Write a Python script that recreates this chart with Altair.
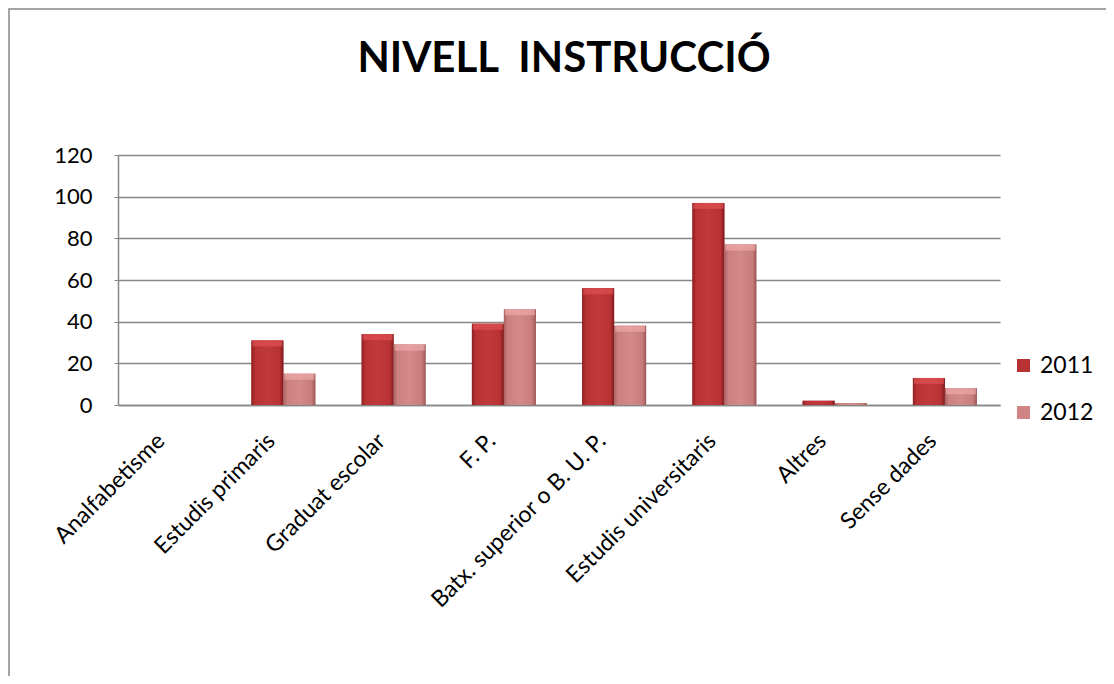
import altair as alt
import pandas as pd

categories = ["Analfabetisme", "Estudis primaris", "Graduat escolar", "F. P.",
              "Batx. superior o B. U. P.", "Estudis universitaris", "Altres", "Sense dades"]
v2011 = [0, 31, 34, 39, 56, 97, 2, 13]
v2012 = [0, 15, 29, 46, 38, 77, 1, 8]
years = ["2011", "2012"]
y_ticks = [0, 20, 40, 60, 80, 100, 120]
title_text = "NIVELL\u00a0 INSTRUCCIÓ"

rows = []
for c, a, b in zip(categories, v2011, v2012):
    rows.append({"cat": c, "year": "2011", "v": a})
    rows.append({"cat": c, "year": "2012", "v": b})
df = pd.DataFrame(rows)

FONT = "Lato"
GRID = "#868686"

x = alt.X("cat:N", sort=categories,
          scale=alt.Scale(paddingInner=0.42, paddingOuter=0.21),
          axis=alt.Axis(title=None, labelAngle=-45, labelAlign="right", labelBaseline="middle",
                        labelPadding=32, labelOffset=-12, ticks=False, domainColor=GRID,
                        domainWidth=1.5, labelFontSize=23, labelColor="black", labelFont=FONT,
                        grid=False, labelLimit=0))
y = alt.Y("v:Q", scale=alt.Scale(domain=[0, 120], nice=False),
          axis=alt.Axis(title=None, values=y_ticks, grid=True, gridColor=GRID, gridWidth=1.5,
                        domainColor=GRID, domainWidth=1.5, tickColor=GRID, tickSize=4,
                        labelFontSize=22, labelColor="black", labelFont=FONT, labelPadding=22))
xo = alt.XOffset("year:N", sort=years, scale=alt.Scale(domain=years, paddingInner=0, paddingOuter=0))
color = alt.Color("year:N", scale=alt.Scale(domain=years, range=["#B83234", "#D08484"]),
                  legend=alt.Legend(title=None, orient="none", legendX=894, legendY=199,
                                    symbolType="square", symbolSize=170, symbolStrokeWidth=0,
                                    labelFontSize=23, labelFont=FONT, labelColor="black",
                                    rowPadding=23, labelOffset=5))

border = alt.Chart(pd.DataFrame({"a": [0]})).mark_rect(
    filled=False, stroke=GRID, strokeWidth=1.5
).encode(x=alt.value(-109), x2=alt.value(1100), y=alt.value(-146), y2=alt.value(700))

title = alt.Chart(pd.DataFrame({"t": [title_text]})).mark_text(
    font=FONT, fontSize=42, fontWeight="bold", color="black", align="center", baseline="alphabetic"
).encode(text="t:N", x=alt.value(446), y=alt.value(-83))

base = alt.Chart(df).mark_bar().encode(x=x, y=y, xOffset=xo, color=color)

g2011 = alt.Gradient(gradient="linear", x1=0, x2=1, y1=0, y2=0, stops=[
    alt.GradientStop(color="#8E2022", offset=0),
    alt.GradientStop(color="#B83234", offset=0.12),
    alt.GradientStop(color="#C03A3C", offset=0.5),
    alt.GradientStop(color="#B83234", offset=0.88),
    alt.GradientStop(color="#7E1A1C", offset=1)])
g2012 = alt.Gradient(gradient="linear", x1=0, x2=1, y1=0, y2=0, stops=[
    alt.GradientStop(color="#A86262", offset=0),
    alt.GradientStop(color="#CC8080", offset=0.12),
    alt.GradientStop(color="#D48A8A", offset=0.5),
    alt.GradientStop(color="#C87C7C", offset=0.88),
    alt.GradientStop(color="#9A5656", offset=1)])

bars11 = alt.Chart(df).transform_filter("datum.year == '2011'").mark_bar(color=g2011).encode(
    x=x, y=y, xOffset=xo)
bars12 = alt.Chart(df).transform_filter("datum.year == '2012'").mark_bar(color=g2012).encode(
    x=x, y=y, xOffset=xo)

cap11 = alt.Chart(df).transform_filter("datum.year == '2011' && datum.v >= 5").mark_tick(
    color="#DE5052", size=30, thickness=6, yOffset=3).encode(x=x, y=y, xOffset=xo)
cap12 = alt.Chart(df).transform_filter("datum.year == '2012' && datum.v >= 5").mark_tick(
    color="#EEAAAA", size=30, thickness=6, yOffset=3).encode(x=x, y=y, xOffset=xo)

chart = alt.layer(border, title, base, bars11, bars12, cap11, cap12).properties(
    width=882, height=250,
    autosize=alt.AutoSizeParams(type="none"),
    padding={"left": 110, "top": 147, "right": 106, "bottom": 271},
    background="white",
).configure_view(stroke=None)

chart.save("out.html", embed_options={"renderer": "svg", "actions": False})
